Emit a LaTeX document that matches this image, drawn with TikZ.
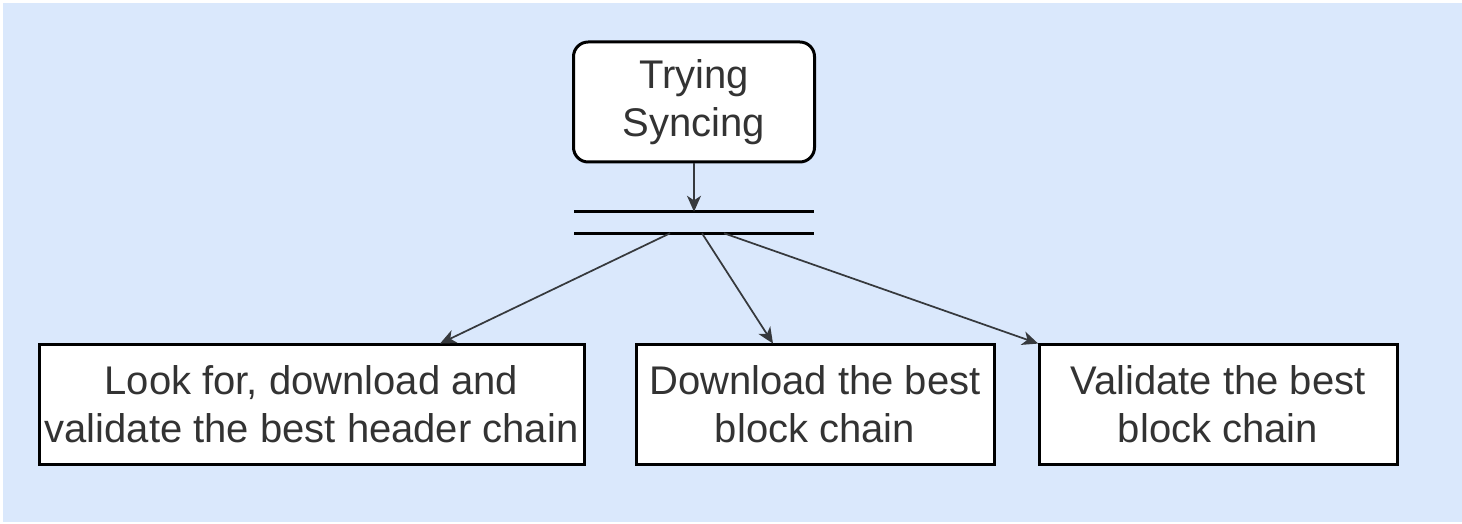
\documentclass[tikz,border=0pt]{standalone}
\usepackage{fontspec}
\setmainfont{Liberation Sans}
\usetikzlibrary{arrows.meta,calc}
\definecolor{bgblue}{HTML}{DAE8FC}
\definecolor{txt}{HTML}{333333}
\definecolor{arr}{HTML}{36393D}
\begin{document}
\begin{tikzpicture}[x=0.75pt,y=-0.75pt,
  box/.style={draw=black,line width=2.25pt,fill=white,minimum height=90pt,inner sep=0pt,align=center,text=txt,font=\fontsize{30pt}{36pt}\selectfont},
  conn/.style={draw=arr,line width=1.3pt,-{Stealth[length=12pt,width=10.5pt,inset=3.5pt]}},
  barline/.style={draw=black,line width=2.4pt}]
\path[fill=white] (0,0) rectangle (1462,524);
\path[fill=bgblue] (3,3) rectangle (1462,522);
\useasboundingbox (0,0) rectangle (1462,524);
\node[box,rounded corners=11pt,minimum width=180.75pt] (top) at (694,102) {Trying\\Syncing};
\node[inner sep=0pt,minimum width=179.25pt,minimum height=15.75pt] (bar) at (694,222.5) {};
\draw[barline] (bar.north west) -- (bar.north east);
\draw[barline] (bar.south west) -- (bar.south east);
\node[box,minimum width=408.75pt] (b1) at (311.5,404) {Look for, download and\\validate the best header chain};
\node[box,minimum width=268.5pt] (b2) at (815,404) {Download the best\\block chain};
\node[box,minimum width=268.5pt] (b3) at (1218,404) {Validate the best\\block chain};
\draw[conn] (top.south) -- (bar.north);
\draw[conn] ([xshift=-18pt]bar.south) -- ([xshift=96.4pt,yshift=-0.8pt]b1.north);
\draw[conn] ([xshift=6pt]bar.south) -- ([xshift=-31.5pt,yshift=-0.8pt]b2.north);
\draw[conn] ([xshift=22.5pt]bar.south) -- ([xshift=0.5pt,yshift=-0.8pt]b3.north west);
\end{tikzpicture}
\end{document}
